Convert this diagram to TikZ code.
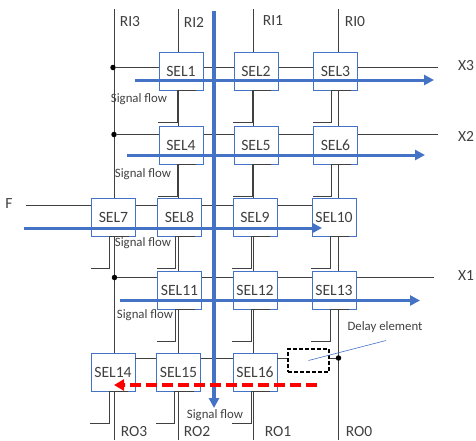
\documentclass[tikz,border=0pt]{standalone}
\usepackage{fontspec}
\usetikzlibrary{arrows.meta}
\setmainfont{Carlito}
\definecolor{flowblue}{HTML}{4472C4}
\definecolor{labelgray}{HTML}{404040}
\begin{document}
\begin{tikzpicture}[
        x=1pt, y=-1pt,
        selbox/.style={rectangle, draw=flowblue, fill=white, line width=0.8pt, inner sep=0pt,
            minimum width=44pt, minimum height=38pt, align=center, text=labelgray, font=\fontsize{15.7}{17}\selectfont},
        wire/.style={line width=0.9pt, black!75},
        flow/.style={-{Triangle[length=10pt,width=10pt]}, line width=3pt, flowblue},
        junction/.style={circle, fill=black, inner sep=0pt, minimum size=5.5pt},
        portlabel/.style={text=labelgray, inner sep=0pt, font=\fontsize{15.5}{17}\selectfont},
        flowlabel/.style={text=labelgray, inner sep=0pt, font=\fontsize{12.8}{14}\selectfont}
    ]
        \useasboundingbox (0,0) rectangle (476,440);
        % end points of the long wires
        \foreach \name/\xpos in {ri3/114, ri2/178.5, ri1/253.5, ri0/338} {
            \coordinate (\name top) at (\xpos,9);
            \coordinate (\name bot) at (\xpos,440);
            \draw[wire] (\name top) -- (\name bot);
        }
        \node[junction] (dot3) at (113,67.5) {};
        \node[junction] (dot2) at (114,134.5) {};
        \node[junction] (dot1) at (114.5,277.5) {};
        \node[junction] (dot0) at (338.5,358) {};
        \coordinate (x3end) at (438,67.5);
        \coordinate (x2end) at (438,134.5);
        \coordinate (x1end) at (434,277.5);
        \coordinate (fstart) at (26,205);
        \coordinate (fend) at (334,205);
        \draw[wire] (dot3) -- (x3end);
        \draw[wire] (dot2) -- (x2end);
        \draw[wire] (dot1) -- (x1end);
        \draw[wire] (fstart) -- (fend);
        % selector grid
        \foreach \num/\xpos/\ypos in {1/181/71, 2/256/71, 3/335.5/71,
                4/181/145, 5/256/145, 6/335.5/145,
                7/113.5/217.5, 8/179.5/217, 9/255/217, 10/334/217,
                11/179.5/290, 12/255/290, 13/334/290,
                14/113/372, 15/178.5/372, 16/255/372} {
            \node[selbox] (sel\num) at (\xpos,\ypos) {SEL\num};
            \draw[wire] ([xshift=15pt]sel\num.south) -- ([xshift=-4pt]sel\num.south)
                -- ++(0,32) -- ++(-19,0);
        }
        \draw[wire] (sel14.east |- dot0) -- (sel15.west |- dot0);
        \draw[wire] (sel15.east |- dot0) -- (sel16.west |- dot0);
        \node[draw, line width=1.1pt, dash pattern=on 4pt off 2pt, minimum width=41pt, minimum height=23pt, inner sep=0pt] (delay) at (308.5,360.5) {};
        \draw[wire] (sel16.east |- dot0) -- (delay.west |- dot0);
        \draw[wire] (delay.east |- dot0) -- (dot0);
        % signal flows
        \coordinate (row3a) at (135,80);   \coordinate (row3b) at (434,80);
        \coordinate (row2a) at (127,155);  \coordinate (row2b) at (425,155);
        \coordinate (rowfa) at (24,228);   \coordinate (rowfb) at (322,228);
        \coordinate (row1a) at (120,300.5); \coordinate (row1b) at (420,300.5);
        \coordinate (coldown) at (214,408); \coordinate (coltop) at (214,11);
        \draw[flow] (row3a) -- (row3b);
        \draw[flow] (row2a) -- (row2b);
        \draw[flow] (rowfa) -- (rowfb);
        \draw[flow] (row1a) -- (row1b);
        \draw[flow, line width=3.3pt] (coltop) -- (coldown);
        \coordinate (reda) at (317,385);
        \coordinate (redb) at (114,385);
        \coordinate (redc) at (125,385);
        \draw[red, line width=3.2pt, dash pattern=on 11pt off 5pt] (reda) -- (redc);
        \draw[-{Triangle[length=10pt,width=11pt]}, red, line width=3.2pt] (redc) -- (redb);
        % texts
        \foreach \name/\xpos/\ypos/\txt in {lri3/130/22/RI3, lri2/194/22/RI2, lri1/273/21/RI1, lri0/355/22/RI0,
                lx3/466/66/X3, lx2/466/136/X2, lx1/466/276/X1, lf/9/204/F,
                lro3/134/432/RO3, lro2/197/432/RO2, lro1/278/432/RO1, lro0/359/432/RO0} {
            \node[portlabel] (\name) at (\xpos,\ypos) {\txt};
        }
        \foreach \name/\xpos/\ypos in {flow1/139/99, flow2/143/174, flow3/143/243, flow4/145/315, flow5/215/415} {
            \node[flowlabel] (\name) at (\xpos,\ypos) {Signal flow};
        }
        \node[flowlabel] (delaylabel) at (385,327.5) {Delay element};
        \coordinate (leadstart) at (386,340.5);
        \draw[flowblue, line width=0.6pt] (leadstart) -- (delay.center);
\end{tikzpicture}
\end{document}
